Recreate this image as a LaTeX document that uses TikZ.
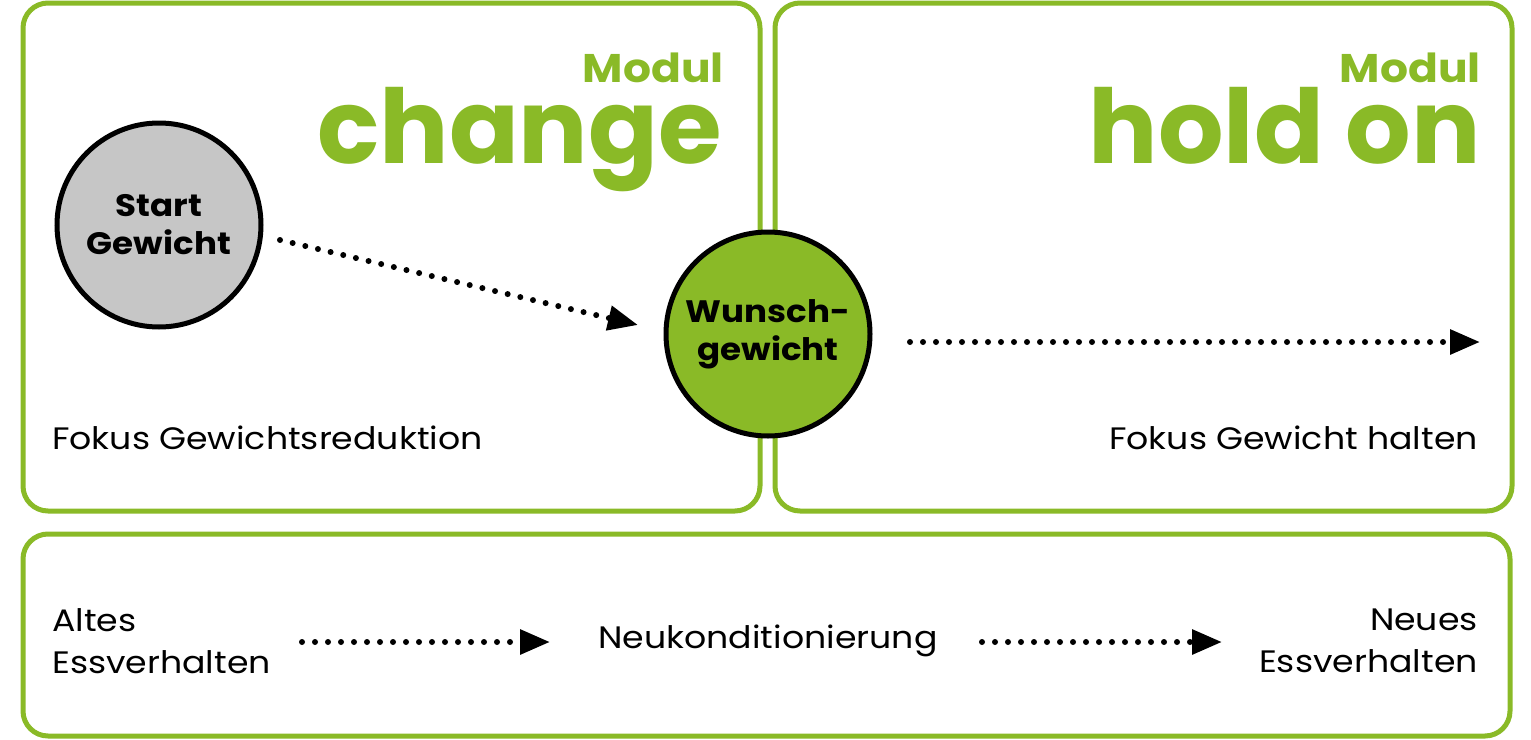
\documentclass[tikz,border=0pt]{standalone}
\usepackage{fontspec}
\setmainfont{Poppins}[FakeStretch=1.12]
\newfontfamily\popb{Poppins}[UprightFont={* Bold},FakeStretch=1.1]
\newfontfamily\popt{Poppins}[UprightFont={* Bold}]
\usetikzlibrary{arrows.meta}
\definecolor{lg}{HTML}{8ABA27}
\definecolor{cg}{HTML}{C6C6C6}
\tikzset{
 box/.style={draw=lg,line width=5pt,rounded corners=25pt},
 circ/.style={circle,draw=black,line width=5pt,minimum size=204pt,inner sep=0pt,align=center,font=\popb\fontsize{31}{38}\selectfont},
 dots/.style={line width=6pt,line cap=round,dash pattern=on 0pt off 13pt,-{Triangle[length=30pt,width=24pt]}},
 txt/.style={inner sep=0pt,font=\fontsize{31}{42}\selectfont},
 title/.style={inner sep=0pt,text=lg,font=\popt\fontsize{#1}{#1}\selectfont}
}
\begin{document}
\begin{tikzpicture}[x=1pt,y=-1pt]
\useasboundingbox (0,0) rectangle (1531,739);
\draw[box] (23,3) rectangle (760,511);
\draw[box] (775,3) rectangle (1512,511);
\draw[box] (23,534) rectangle (1510,736);
\node[title=40,anchor=base east,font=\popb\fontsize{40}{40}\selectfont] (m1) at (724,82) {Modul};
\node[title=103,anchor=base east] (ch) at (722,163) {change};
\node[title=40,anchor=base east,font=\popb\fontsize{40}{40}\selectfont] (m2) at (1481,82) {Modul};
\node[title=103,anchor=base east] (ho) at (1481,163) {hold on};
\node[circ,fill=cg] (s) at (159,225) {Start\\Gewicht};
\node[circ,fill=lg] (w) at (768,334) {Wunsch-\\gewicht};
\coordinate (a1) at (280,240); \coordinate (a2) at (638,325);
\draw[dots] (a1) -- (a2);
\coordinate (b1) at (910,342); \coordinate (b2) at (1480,342);
\draw[dots] (b1) -- (b2);
\node[txt,anchor=base west] (f1) at (52,449) {Fokus Gewichtsreduktion};
\node[txt,anchor=base east] (f2) at (1478,449) {Fokus Gewicht halten};
\node[txt,anchor=west,align=left] (al) at (52,641) {Altes\\Essverhalten};
\node[txt] (nk) at (768,641) {Neukonditionierung};
\node[txt,anchor=east,align=right] (ne) at (1478,641) {Neues\\Essverhalten};
\coordinate (c1) at (302,642); \coordinate (c2) at (550,642);
\draw[dots] (c1) -- (c2);
\coordinate (d1) at (982,642); \coordinate (d2) at (1222,642);
\draw[dots] (d1) -- (d2);
\end{tikzpicture}
\end{document}
